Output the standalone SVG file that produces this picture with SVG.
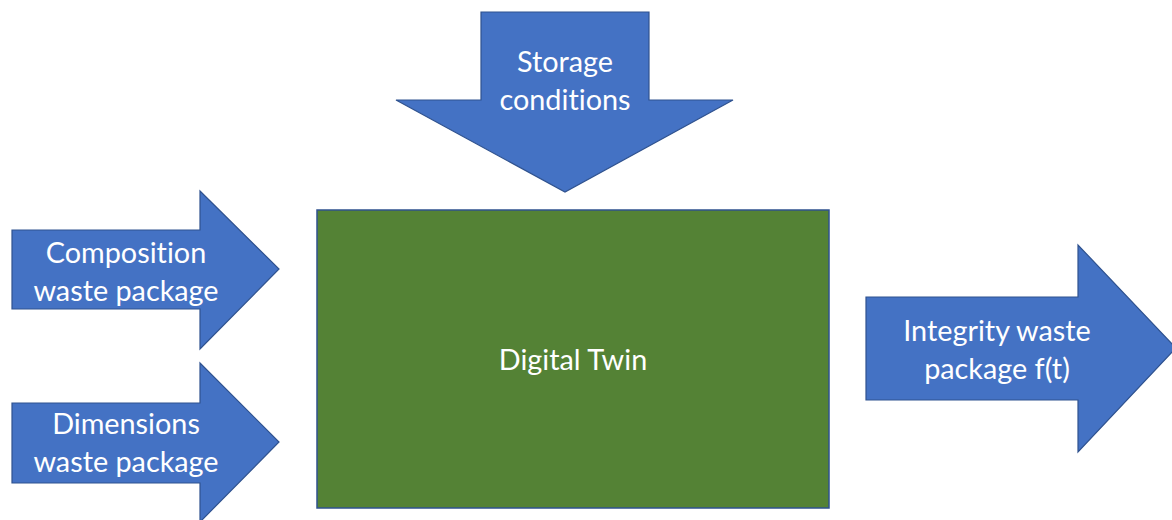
<svg xmlns="http://www.w3.org/2000/svg" width="1172" height="520" viewBox="0 0 1172 520">
  <style>
    .arrow { fill: #4472C4; stroke: #2F528F; stroke-width: 1.2; }
    .box { fill: #548235; stroke: #2F528F; stroke-width: 1.5; }
    .lbl { fill: #FFFFFF; font-family: Lato, "Open Sans", "Liberation Sans", sans-serif; font-size: 28.8px; font-variant-ligatures: none; text-anchor: middle; dominant-baseline: central; }
  </style>
  <rect width="1172" height="520" fill="#FFFFFF"/>

  <!-- block arrows feeding into / out of the model -->
  <g id="connectors">
    <g id="storage-conditions">
      <polygon class="arrow" points="481,12 649,12 649,100 733,100 565,192 396,100 481,100"/>
      <text class="lbl" x="565" y="61">Storage</text>
      <text class="lbl" x="565" y="99">conditions</text>
    </g>
    <g id="composition">
      <polygon class="arrow" points="12,230 200,230 200,191 279,269 200,349 200,309 12,309"/>
      <text class="lbl" x="126" y="252">Composition</text>
      <text class="lbl" x="126" y="290">waste package</text>
    </g>
    <g id="dimensions">
      <polygon class="arrow" points="12,403 200,403 200,363 279,442 200,522 200,483 12,483"/>
      <text class="lbl" x="126" y="423">Dimensions</text>
      <text class="lbl" x="126" y="461">waste package</text>
    </g>
    <g id="integrity">
      <polygon class="arrow" points="866,297 1078,297 1078,245 1176,348 1078,452 1078,400 866,400"/>
      <text class="lbl" x="997" y="330">Integrity waste</text>
      <text class="lbl" x="997" y="368">package f(t)</text>
    </g>
  </g>

  <!-- central model block -->
  <g id="digital-twin">
    <rect class="box" x="317" y="210" width="512" height="298"/>
    <text class="lbl" x="573" y="359">Digital Twin</text>
  </g>
</svg>
